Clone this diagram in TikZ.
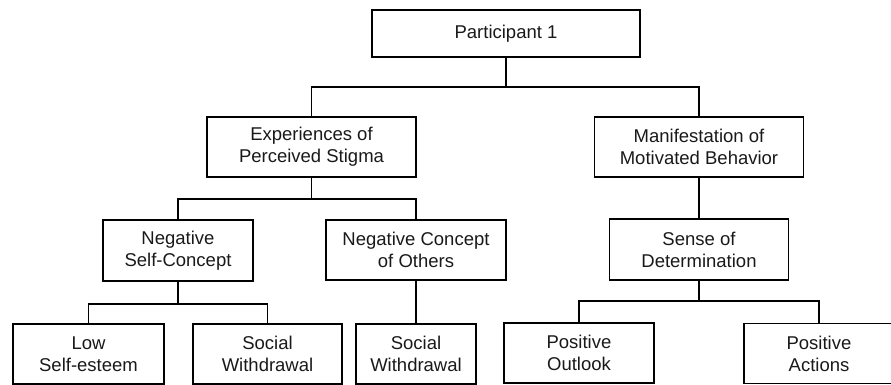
\documentclass[tikz,border=0pt]{standalone}
\usepackage{fontspec}
\setmainfont{Liberation Sans}
\begin{document}
\begin{tikzpicture}[x=1pt,y=-1pt,
  box/.style={draw, line width=1.4pt, rectangle, align=center, inner sep=0pt,
    font=\fontsize{18.5}{22}\selectfont, text=black!90},
  link/.style={line width=1.4pt}]
\clip (0,0) rectangle (891,385);
\node[box, minimum width=268pt, minimum height=47pt] (P) at (506,33.5) {Participant 1};
\node[box, minimum width=209pt, minimum height=60pt] (E) at (311.5,147) {Experiences of\\Perceived Stigma};
\node[box, minimum width=209pt, minimum height=60pt] (M) at (699,147) {Manifestation of\\Motivated Behavior};
\node[box, minimum width=150pt, minimum height=61pt] (NSC) at (178,250.5) {Negative\\Self-Concept};
\node[box, minimum width=180pt, minimum height=60pt] (NCO) at (416,250) {Negative Concept\\of Others};
\node[box, minimum width=179pt, minimum height=61pt] (SoD) at (699,249.5) {Sense of\\Determination};
\node[box, minimum width=151pt, minimum height=60pt] (LSE) at (88.5,354) {Low\\Self-esteem};
\node[box, minimum width=149pt, minimum height=60pt] (SW1) at (267.5,354) {Social\\Withdrawal};
\node[box, minimum width=120pt, minimum height=60pt] (SW2) at (416,354) {Social\\Withdrawal};
\node[box, line width=1.9pt, minimum width=150pt, minimum height=60pt] (PO) at (579,353) {Positive\\Outlook};
\node[box, minimum width=150pt, minimum height=60pt] (PA) at (819,353.5) {Positive\\Actions};
\coordinate (b1) at (0,87);
\coordinate (b2) at (0,199);
\coordinate (b3) at (0,304);
\coordinate (b4) at (0,301);
\draw[link] (P.south) -- (P.south |- b1);
\draw[link] (E.north) |- (M.north |- b1) -- (M.north);
\draw[link] (E.south) -- (E.south |- b2);
\draw[link] (NSC.north) |- (NCO.north |- b2) -- (NCO.north);
\draw[link] (M.south) -- (SoD.north);
\draw[link] (NSC.south) -- (NSC.south |- b3);
\draw[link] (LSE.north) |- (SW1.north |- b3) -- (SW1.north);
\draw[link] (NCO.south) -- (SW2.north);
\draw[link] (SoD.south) -- (SoD.south |- b4);
\draw[link] (PO.north) |- (PA.north |- b4) -- (PA.north);
\end{tikzpicture}
\end{document}
